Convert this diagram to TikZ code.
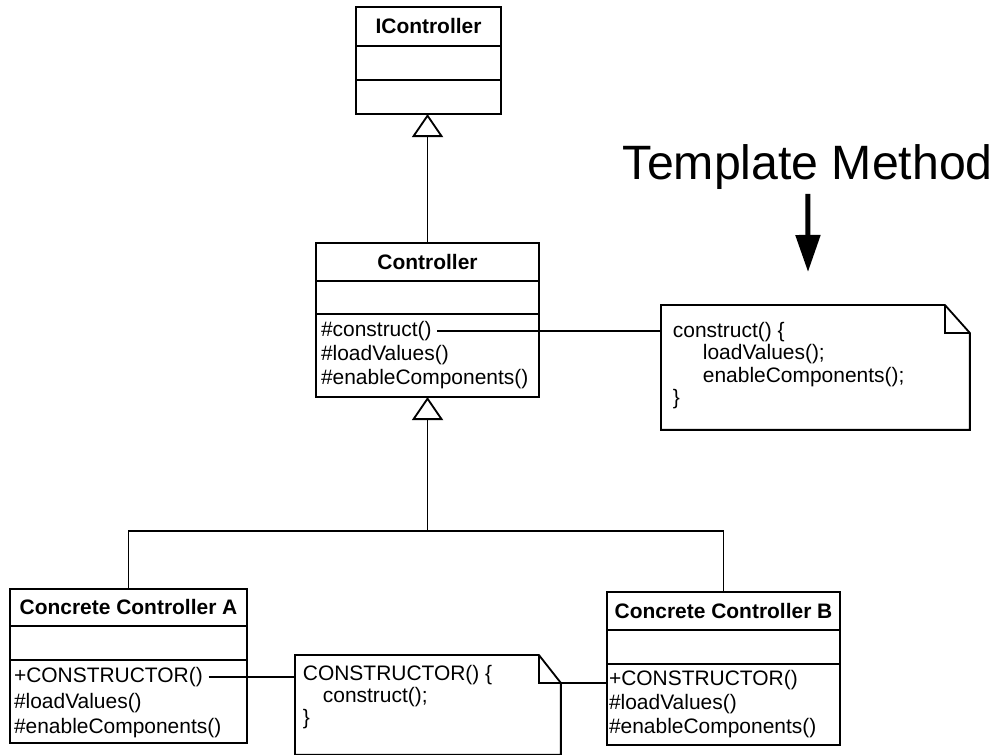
\documentclass[tikz,border=0pt]{standalone}
\usepackage{fontspec}
\setmainfont{Liberation Sans}
\usetikzlibrary{positioning,arrows.meta,calc}

\begin{document}
\begin{tikzpicture}[x=0.025cm, y=-0.025cm, line width=1.3pt, every node/.style={font=\fontsize{14.9}{17}\selectfont}]
\tikzset{
  clsname/.style={draw, rectangle, anchor=north west, inner sep=0pt, outer sep=0pt, font=\fontsize{14.9}{17}\selectfont\bfseries},
  clspart/.style={draw, rectangle, anchor=north west, inner sep=0pt, outer sep=0pt},
  method/.style={anchor=west, inner xsep=1.5pt, inner ysep=0pt},
  inherit/.style={-{Triangle[open, length=0.575cm, width=0.775cm]}},
  link/.style={shorten <=2pt}
}
\useasboundingbox (0,0) rectangle (1002,755);

% interface
\node[clsname, minimum width=3.625cm, minimum height=0.975cm] (ictrlName) at (356,7) {IController};
\node[clspart, minimum width=3.625cm, minimum height=0.85cm] (ictrlAttr) at (ictrlName.south west) {};
\node[clspart, minimum width=3.625cm, minimum height=0.85cm] (ictrlOps) at (ictrlAttr.south west) {};

% abstract class
\node[clsname, minimum width=5.575cm, minimum height=0.95cm] (ctrlName) at (316,243) {Controller};
\node[clspart, minimum width=5.575cm, minimum height=0.825cm] (ctrlAttr) at (ctrlName.south west) {};
\node[clspart, minimum width=5.575cm, minimum height=2.075cm] (ctrlOps) at (ctrlAttr.south west) {};
\node[method] (ctrlConstruct) at (318,331) {\#construct()};
\node[method] (ctrlLoad) at (318,355) {\#loadValues()};
\node[method] (ctrlEnable) at (318,379) {\#enableComponents()};

% concrete classes
\node[clsname, minimum width=5.925cm, minimum height=0.925cm] (aName) at (10,589) {Concrete Controller A};
\node[clspart, minimum width=5.925cm, minimum height=0.85cm] (aAttr) at (aName.south west) {};
\node[clspart, minimum width=5.925cm, minimum height=2.075cm] (aOps) at (aAttr.south west) {};
\node[method] (aCtor) at (11,677) {+CONSTRUCTOR()};
\node[method] (aLoad) at (11,703) {\#loadValues()};
\node[method] (aEnable) at (11,728) {\#enableComponents()};

\node[clsname, minimum width=5.825cm, minimum height=0.95cm] (bName) at (607,592) {Concrete Controller B};
\node[clspart, minimum width=5.825cm, minimum height=0.85cm] (bAttr) at (bName.south west) {};
\node[clspart, minimum width=5.825cm, minimum height=2.025cm] (bOps) at (bAttr.south west) {};
\node[method] (bCtor) at (606,680) {+CONSTRUCTOR()};
\node[method] (bLoad) at (606,704) {\#loadValues()};
\node[method] (bEnable) at (606,728) {\#enableComponents()};

% notes
\node[anchor=north west, inner xsep=0.275cm, inner ysep=0.4cm] (tnote) at (661,305) {\begin{minipage}[c][2.275cm][t]{7.125cm}
\fontsize{14.9}{16}\selectfont
construct() \{\\
\hspace*{0.75cm}loadValues();\\
\hspace*{0.75cm}enableComponents();\\
\}
\end{minipage}};
\draw (tnote.north west) -- ($(tnote.north east)+(-25,0)$) coordinate (tfoldA) -- ($(tnote.north east)+(0,28)$) -- (tnote.south east) -- (tnote.south west) -- cycle;
\draw (tfoldA) -- ++(0,28) -- ++(25,0);

\node[anchor=north west, inner xsep=0.175cm, inner ysep=0.225cm] (cnote) at (295,655) {\begin{minipage}[c][2.0cm][t]{6.25cm}
\fontsize{14.9}{15.8}\selectfont
CONSTRUCTOR() \{\\
\hspace*{0.5cm}construct();\\
\}
\end{minipage}};
\draw (cnote.north west) -- ($(cnote.north east)+(-22,0)$) coordinate (cfoldA) -- ($(cnote.north east)+(0,28)$) coordinate (cfold) -- (cnote.south east) -- (cnote.south west) -- cycle;
\draw (cfoldA) -- ++(0,28) -- ++(22,0);

% title
\node[anchor=base west, inner sep=0pt, font=\fontsize{34.3}{40}\selectfont] (tm) at (622,180) {Template Method};
\coordinate (tmtip) at (808,272);
\draw[line width=3.6pt, -{Triangle[length=0.925cm, width=0.6cm]}] (tm.south) ++(0,3) -- (tmtip);

% generalizations
\draw[inherit] (ctrlName.north) -- (ctrlName.north |- ictrlOps.south);
\coordinate (fork) at (ctrlOps.south |- 0,531);
\draw (aName.north) |- (fork);
\draw (bName.north) |- (fork);
\draw[inherit] (fork) -- (ctrlOps.south);

% note links
\draw[link] (ctrlConstruct.east) -- (ctrlConstruct.east -| tnote.west);
\draw[link] (aCtor.east) -- (aCtor.east -| cnote.west);
\draw (cfold) -- (cfold -| bOps.west);
\end{tikzpicture}
\end{document}
